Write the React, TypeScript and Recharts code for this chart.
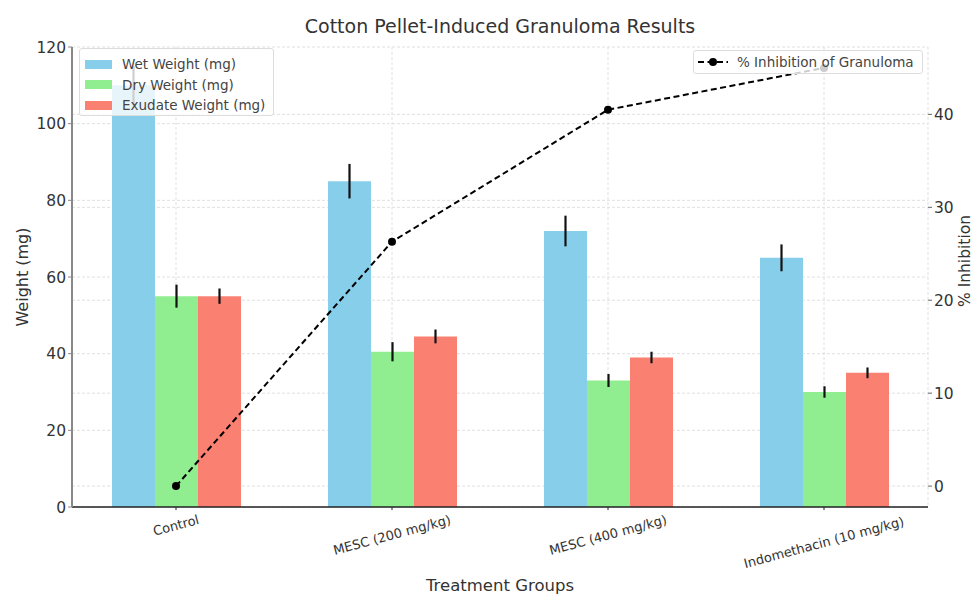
import { Bar, CartesianGrid, ComposedChart, ErrorBar, Label, Legend, Line, XAxis, YAxis } from "recharts"

const categories = ["Control", "MESC (200 mg/kg)", "MESC (400 mg/kg)", "Indomethacin (10 mg/kg)"]
const wetWeight = [110, 85, 72, 65]
const wetErr = [5, 4.5, 4, 3.5]
const dryWeight = [55, 40.5, 33, 30]
const dryErr = [3, 2.5, 1.7, 1.5]
const exudateWeight = [55, 44.5, 39, 35]
const exudateErr = [2, 1.8, 1.5, 1.4]
const inhibition = [0, 26.3, 40.5, 45]

const leftTicks = [0, 20, 40, 60, 80, 100, 120]
const rightTicks = [0, 10, 20, 30, 40]

const barSeries = [
  { key: "wet", err: "wetErr", name: "Wet Weight (mg)", color: "#87CEEB" },
  { key: "dry", err: "dryErr", name: "Dry Weight (mg)", color: "#90EE90" },
  { key: "exudate", err: "exudateErr", name: "Exudate Weight (mg)", color: "#FA8072" },
]

const data = categories.map((group, i) => ({
  group,
  wet: wetWeight[i],
  wetErr: wetErr[i],
  dry: dryWeight[i],
  dryErr: dryErr[i],
  exudate: exudateWeight[i],
  exudateErr: exudateErr[i],
  inhibition: inhibition[i],
}))

const FONT = "'DejaVu Sans', sans-serif"
const TEXT = "#333"
const GRID = "#e0e0e0"

function CategoryTick({ x, y, payload }: any) {
  const label = String(payload.value)
  const cy = y + 6 + label.length * 4.1 * Math.sin((15 * Math.PI) / 180)
  return (
    <text
      x={x}
      y={cy}
      transform={`rotate(-15, ${x}, ${cy})`}
      textAnchor="middle"
      dominantBaseline="central"
      fontSize={13}
      fontFamily={FONT}
      fill={TEXT}
    >
      {label}
    </text>
  )
}

function Legends() {
  const box = {
    position: "absolute" as const,
    background: "rgba(255,255,255,0.8)",
    border: "1px solid #ddd",
    borderRadius: 3,
    fontFamily: FONT,
    fontSize: 13.5,
    color: "#444",
    boxSizing: "border-box" as const,
    whiteSpace: "nowrap" as const,
  }
  return (
    <div style={{ position: "relative", width: 976, height: 0 }}>
      <div style={{ ...box, left: 79, top: 48, width: 195, height: 68, padding: "5px 0 0 5px" }}>
        {barSeries.map((s) => (
          <div key={s.key} style={{ display: "flex", alignItems: "center", height: 20.5 }}>
            <span style={{ width: 27, height: 9, background: s.color, marginRight: 10 }} />
            <span>{s.name}</span>
          </div>
        ))}
      </div>
      <div style={{ ...box, left: 693, top: 50, width: 230, height: 24, display: "flex", alignItems: "center", paddingLeft: 4 }}>
        <svg width={30} height={10} style={{ marginRight: 9 }}>
          <line x1={0} y1={5} x2={30} y2={5} stroke="#000" strokeWidth={2} strokeDasharray="6 3.5" />
          <circle cx={15} cy={5} r={4} fill="#000" />
        </svg>
        <span>% Inhibition of Granuloma</span>
      </div>
    </div>
  )
}

export default function App() {
  return (
    <div style={{ position: "fixed", left: 0, top: 0, width: 976, height: 594, background: "#fff" }}>
      <div
        style={{
          position: "absolute",
          top: 15,
          left: 0,
          width: 1000,
          textAlign: "center",
          fontFamily: FONT,
          fontSize: 19,
          color: TEXT,
        }}
      >
        Cotton Pellet-Induced Granuloma Results
      </div>
      <ComposedChart
        width={976}
        height={594}
        data={data}
        margin={{ top: 47, right: 0, bottom: 0, left: 0 }}
        barGap={0}
        barCategoryGap={42}
        style={{ fontFamily: FONT }}
      >
        <CartesianGrid yAxisId="left" stroke={GRID} strokeDasharray="3 2" horizontalValues={leftTicks} />
        <CartesianGrid yAxisId="right" stroke={GRID} strokeDasharray="3 2" vertical={false} horizontalValues={rightTicks} />
        <XAxis
          dataKey="group"
          height={87}
          padding={{ left: -4, right: -4 }}
          tick={<CategoryTick />}
          tickSize={3}
          interval={0}
          axisLine={{ stroke: "#222", strokeWidth: 1.5 }}
          tickLine={{ stroke: "#222" }}
        >
          <Label
            content={() => (
              <text x={500} y={591} textAnchor="middle" fontSize={16.5} fontFamily={FONT} fill={TEXT}>
                Treatment Groups
              </text>
            )}
          />
        </XAxis>
        <YAxis
          yAxisId="left"
          width={72}
          domain={[0, 120]}
          ticks={leftTicks}
          tickSize={4}
          tick={{ fontSize: 15.5, fill: TEXT }}
          axisLine={{ stroke: "#888", strokeWidth: 2 }}
          tickLine={{ stroke: "#888" }}
        >
          <Label
            content={() => (
              <text x={22} y={277} transform="rotate(-90, 22, 277)" textAnchor="middle" dominantBaseline="central" fontSize={16} fontFamily={FONT} fill={TEXT}>
                Weight (mg)
              </text>
            )}
          />
        </YAxis>
        <YAxis
          yAxisId="right"
          orientation="right"
          width={48}
          domain={[-2.25, 47.25]}
          ticks={rightTicks}
          tickSize={4}
          tick={{ fontSize: 15.5, fill: TEXT }}
          axisLine={false}
          tickLine={{ stroke: "#666" }}
        >
          <Label
            content={() => (
              <text x={965} y={261} transform="rotate(-90, 965, 261)" textAnchor="middle" dominantBaseline="central" fontSize={15.5} fontFamily={FONT} fill={TEXT}>
                % Inhibition
              </text>
            )}
          />
        </YAxis>
        {barSeries.map((s) => (
          <Bar key={s.key} yAxisId="left" dataKey={s.key} name={s.name} fill={s.color} barSize={43} isAnimationActive={false}>
            <ErrorBar dataKey={s.err} width={0} stroke="#111" strokeWidth={2.2} />
          </Bar>
        ))}
        <Line
          yAxisId="right"
          dataKey="inhibition"
          name="% Inhibition of Granuloma"
          stroke="#000"
          strokeWidth={2}
          strokeDasharray="6 3.5"
          dot={{ r: 4, fill: "#000", stroke: "#000", strokeWidth: 0 }}
          isAnimationActive={false}
        />
        <Legend
          layout="horizontal"
          verticalAlign="middle"
          content={() => <Legends />}
          wrapperStyle={{ top: 0, left: 0, width: 976, height: 0 }}
        />
      </ComposedChart>
    </div>
  )
}
